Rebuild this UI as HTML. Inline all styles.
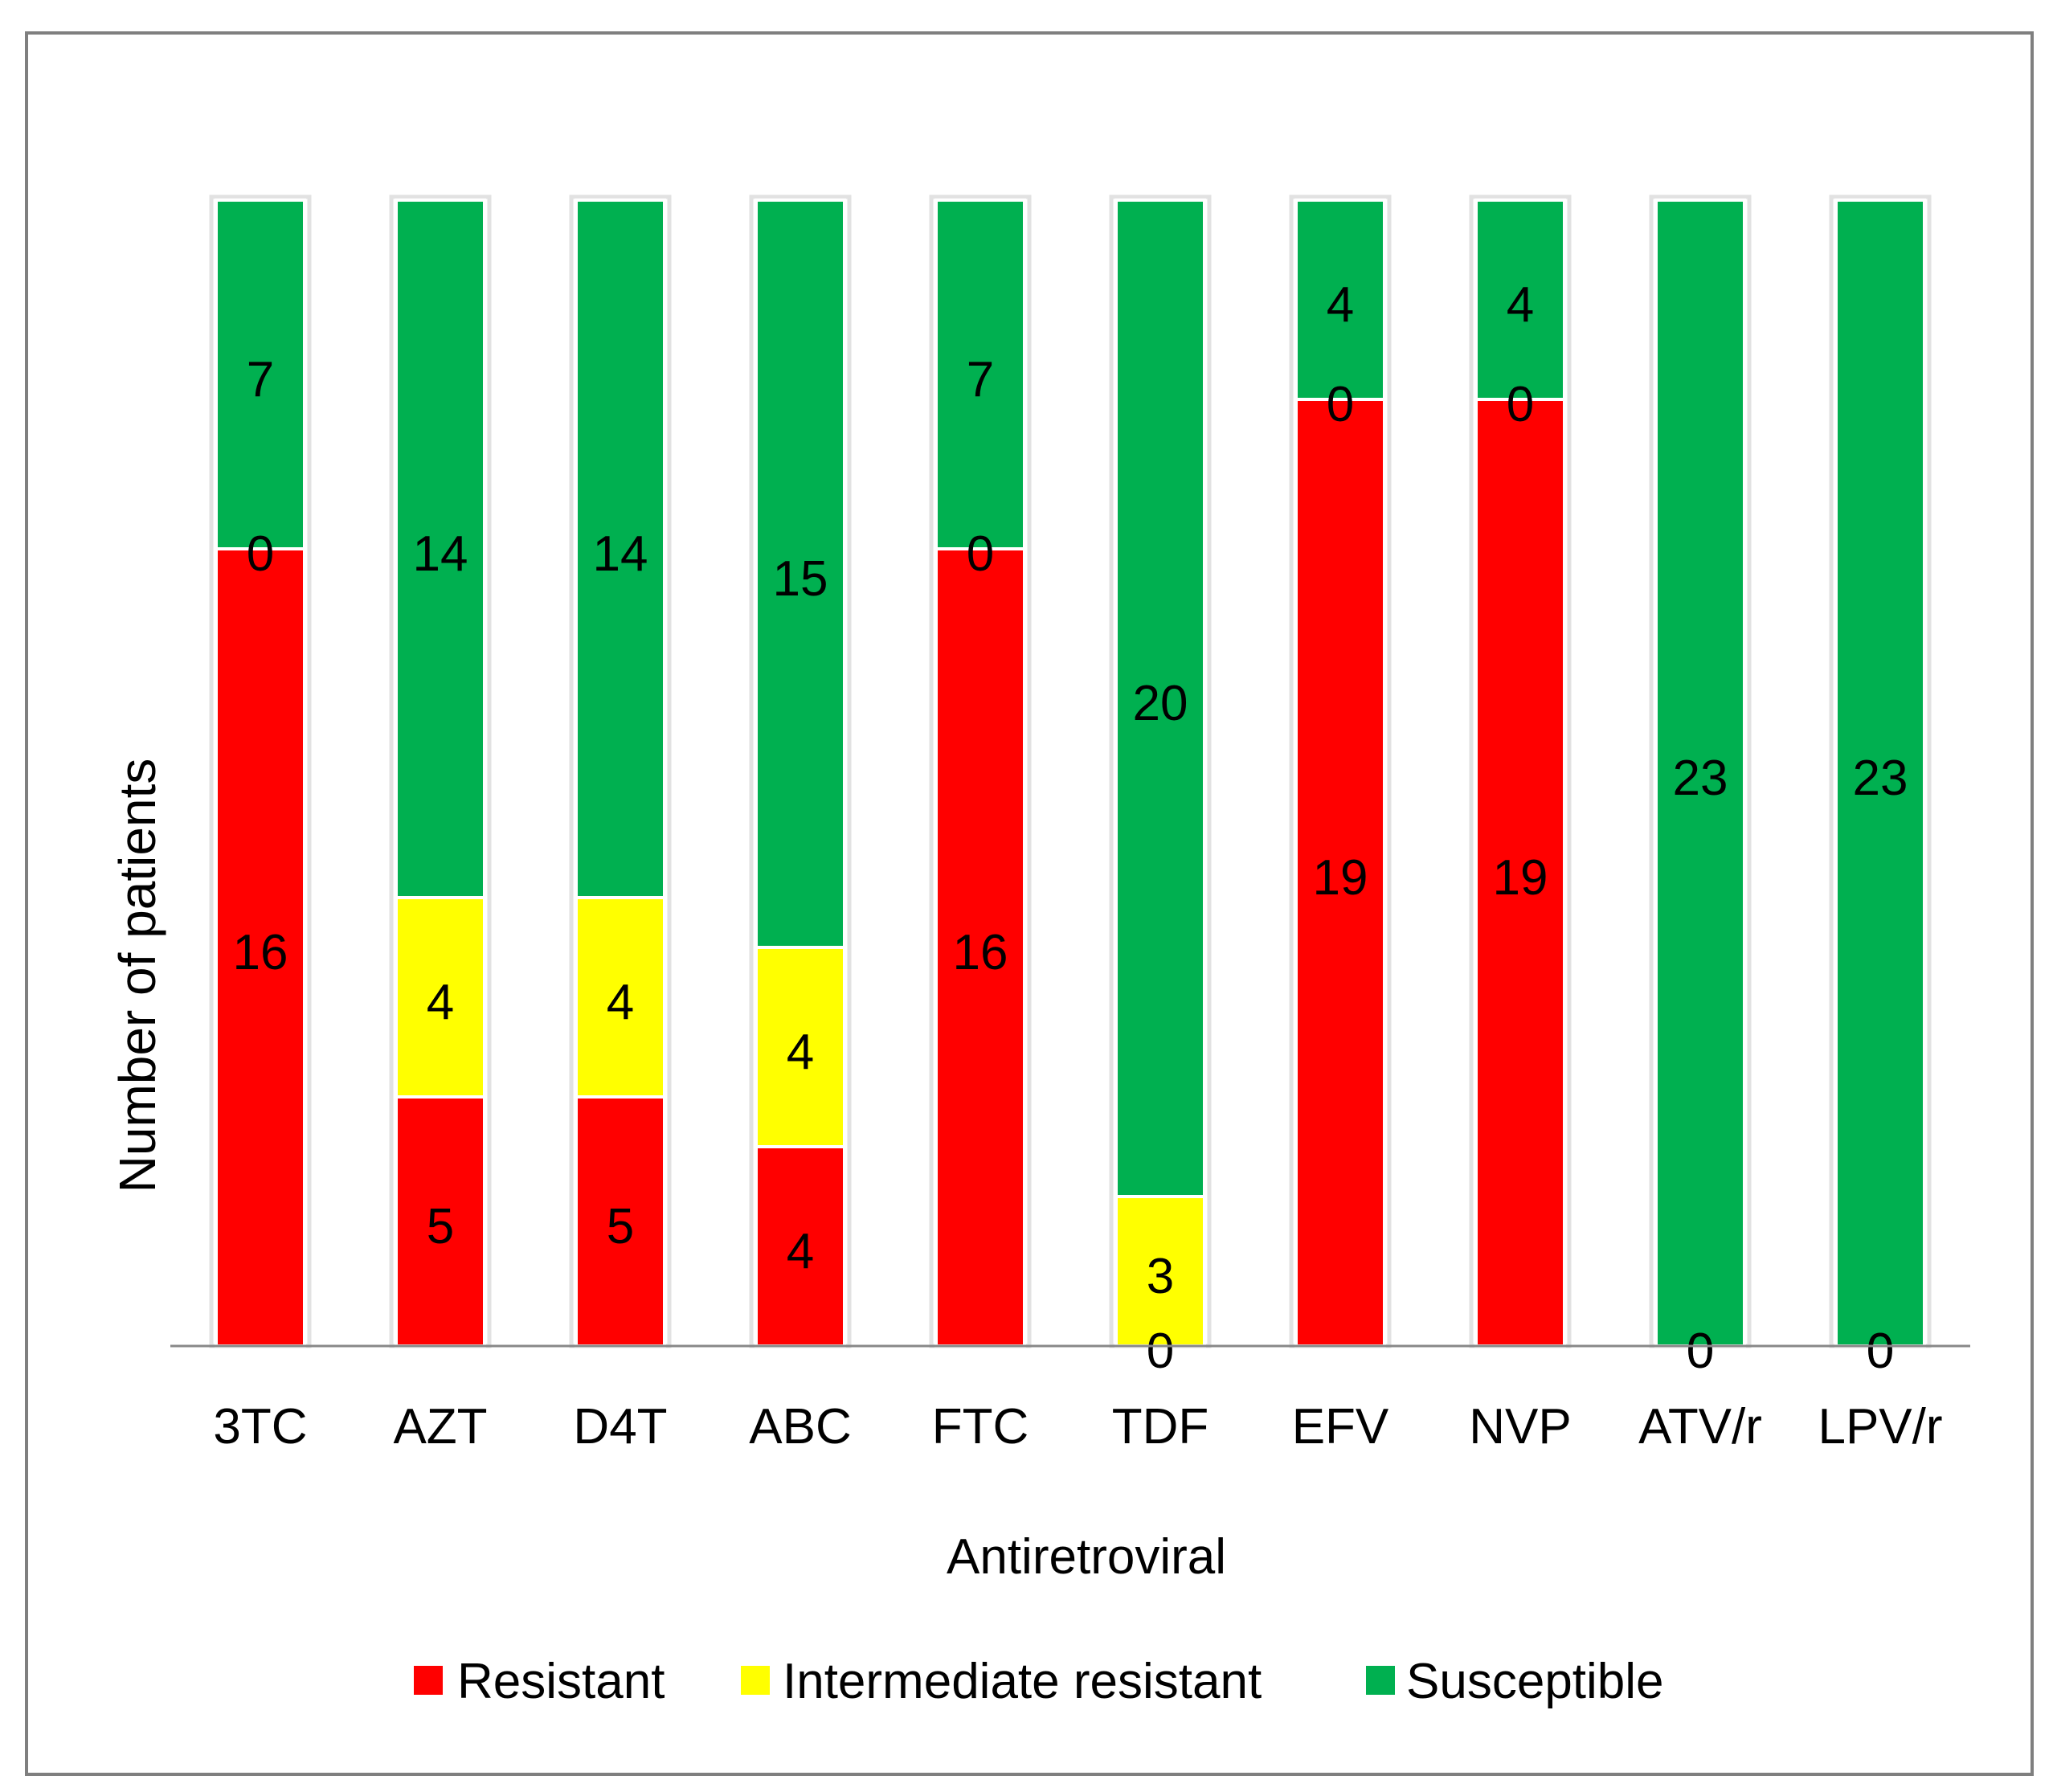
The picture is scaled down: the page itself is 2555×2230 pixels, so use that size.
<!DOCTYPE html>
<html><head><meta charset="utf-8"><style>
html,body{margin:0;padding:0;background:#fff}
svg{display:block}
text{font-family:"Liberation Sans",sans-serif;fill:#000}
</style></head><body>
<svg id="chart" width="2555" height="2230" viewBox="0 0 2555 2230">
<rect x="33" y="41" width="2496" height="2167" fill="#fff" stroke="#7f7f7f" stroke-width="4"/>
<g id="bars"></g>
<line x1="212" y1="1675" x2="2452" y2="1675" stroke="#888" stroke-width="3"/>
<g id="xlabels"></g>
<text x="1352" y="1958" font-size="62" text-anchor="middle">Antiretroviral</text>
<text transform="translate(193,1214) rotate(-90)" font-size="64" text-anchor="middle">Number of patients</text>
<g>
<g><rect x="515" y="2073" width="36" height="36" fill="#FF0000"/><text x="569" y="2113" font-size="62">Resistant</text></g>
<g><rect x="922" y="2073" width="36" height="36" fill="#FFFF00"/><text x="974" y="2113" font-size="62">Intermediate resistant</text></g>
<g><rect x="1700" y="2073" width="36" height="36" fill="#00B050"/><text x="1750" y="2113" font-size="62">Susceptible</text></g>
</g>
</svg>
<script>
const categories=["3TC","AZT","D4T","ABC","FTC","TDF","EFV","NVP","ATV/r","LPV/r"];
const resistant=[16,5,5,4,16,0,19,19,0,0];
const intermediate=[0,4,4,4,0,3,0,0,0,0];
const susceptible=[7,14,14,15,7,20,4,4,23,23];
const seriesNames=["resistant","intermediate","susceptible"];
const seriesColors=["#FF0000","#FFFF00","#00B050"];
const NS="http://www.w3.org/2000/svg";
const x0=212,x1=2452,yBase=1675,yTop=249,yMax=23;
const band=(x1-x0)/categories.length, barW=110;
function xC(i){return x0+band*(i+0.5);}
function yS(v){return yBase-(v/yMax)*(yBase-yTop);}
const bars=document.getElementById('bars'), xl=document.getElementById('xlabels');
const series=[resistant,intermediate,susceptible];
const labels=[];
categories.forEach((c,i)=>{
  let cum=0;
  const sh=document.createElementNS(NS,'rect');
  const tot=resistant[i]+intermediate[i]+susceptible[i];
  sh.setAttribute('x',xC(i)-barW/2-6);sh.setAttribute('y',yS(tot)-4);
  sh.setAttribute('width',barW+12);sh.setAttribute('height',yS(0)-yS(tot)+4);
  sh.setAttribute('fill','none');sh.setAttribute('stroke','#e2e2e2');sh.setAttribute('stroke-width','5');
  
  
  bars.appendChild(sh);
  series.forEach((s,k)=>{
    const v=s[i];
    const yt=yS(cum+v), yb=yS(cum);
    if(v>0){
      const r=document.createElementNS(NS,'rect');
      r.setAttribute('x',xC(i)-barW/2);r.setAttribute('y',yt);
      r.setAttribute('width',barW);r.setAttribute('height',yb-yt);
      r.setAttribute('fill',seriesColors[k]);r.setAttribute('stroke','#fff');r.setAttribute('stroke-width','4');
      
      
      bars.appendChild(r);
    }
    labels.push([xC(i),(yt+yb)/2,v,c,seriesNames[k]]);
    cum+=v;
  });
  const t=document.createElementNS(NS,'text');
  t.setAttribute('x',xC(i));t.setAttribute('y',1796);t.setAttribute('font-size','62');t.setAttribute('text-anchor','middle');
  t.textContent=c;
  
  
  xl.appendChild(t);
});
labels.forEach(l=>{
  const t=document.createElementNS(NS,'text');
  t.setAttribute('x',l[0]);t.setAttribute('y',l[1]+27);t.setAttribute('font-size','62');t.setAttribute('text-anchor','middle');
  t.textContent=l[2];
  
  
  bars.appendChild(t);
});
</script>
</body></html>
